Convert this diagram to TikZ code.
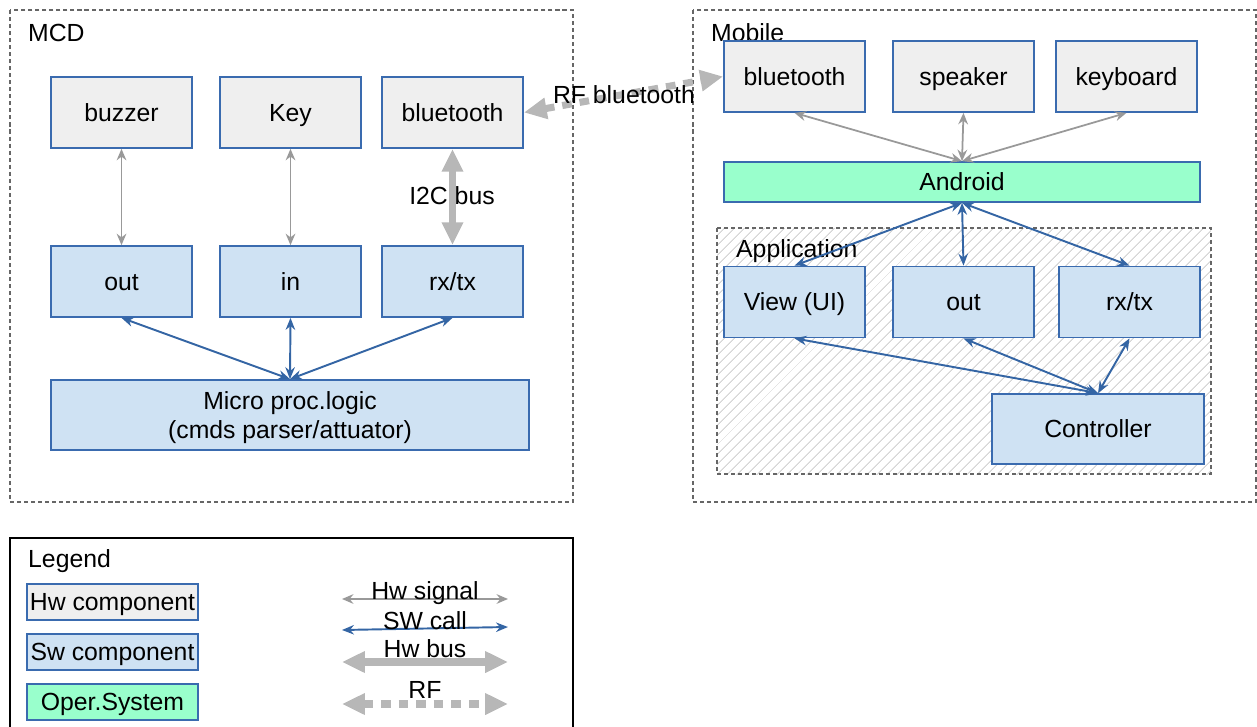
\documentclass[tikz,border=0pt]{standalone}
\usepackage{fontspec}
\setmainfont{Liberation Sans}
\usetikzlibrary{arrows.meta,patterns.meta}

\definecolor{hwfill}{HTML}{EFEFEF}
\definecolor{swfill}{HTML}{CFE2F3}
\definecolor{osfill}{HTML}{99FFCC}
\definecolor{boxline}{HTML}{3A6BAF}
\definecolor{callblue}{HTML}{3465A4}
\definecolor{siggray}{HTML}{999999}
\definecolor{busgray}{HTML}{B7B7B7}
\definecolor{framegray}{HTML}{666666}

\tikzset{
  every node/.style={font=\fontsize{14.1}{16}\selectfont},
  compbox/.style={draw=boxline, line width=1pt, minimum width=28.2mm, minimum height=14.2mm, inner sep=1pt},
  onerow/.style={text height=10.6pt, text depth=0.6pt},
  hwbox/.style={compbox, onerow, fill=hwfill},
  swbox/.style={compbox, onerow, fill=swfill},
  osbox/.style={compbox, onerow, fill=osfill},
  legbox/.style={minimum width=34.2mm, minimum height=7.2mm},
  groupbox/.style={draw=framegray, line width=0.75pt, dash pattern=on 2.3pt off 1.7pt},
  hwsig/.style={draw=siggray, line width=1pt, {Stealth[length=6.5pt,width=5.5pt]}-{Stealth[length=6.5pt,width=5.5pt]}},
  swcall/.style={draw=callblue, line width=1.1pt, {Stealth[length=6.8pt,width=5.4pt]}-{Stealth[length=6.8pt,width=5.4pt]}},
  hwbus/.style={draw=busgray, line width=4pt, {Triangle[length=13pt,width=11.5pt]}-{Triangle[length=13pt,width=11.5pt]}},
  rflink/.style={hwbus, dash pattern=on 5.5pt off 4.5pt},
}

\begin{document}
\begin{tikzpicture}[x=0.2mm,y=-0.2mm]

\useasboundingbox (0,0) rectangle (1257,727);
\clip (0,0) rectangle (1257,727);

    %%% groups
    \draw[groupbox] (10,10) rectangle (573,502);
    \node[anchor=west] (mcdlbl) at (22,33) {MCD};

    \draw[groupbox] (693,10) rectangle (1256,502);
    \node[anchor=west] (moblbl) at (705,33) {Mobile};

    \draw[groupbox, pattern={Lines[angle=45,distance=4pt,line width=0.6pt]}, pattern color=black!16] (717,228) rectangle (1211,474);
    \node[anchor=west] (applbl) at (730,251) {Application};

    %%% MCD side
    \node[hwbox] (buzzer) at (121.5,112.5) {buzzer};
    \node[hwbox] (key) at (290.5,112.5) {Key};
    \node[hwbox] (bt) at (452.5,112.5) {bluetooth};

    \node[swbox] (out) at (121.5,281.5) {out};
    \node[swbox] (in) at (290.5,281.5) {in};
    \node[swbox] (rxtx) at (452.5,281.5) {rx/tx};

    \node[compbox, fill=swfill, minimum width=95.6mm, minimum height=14mm, text depth=0pt, align=center] (micro) at (290,415) {Micro proc.logic\\(cmds parser/attuator)};

    \draw[hwsig] (buzzer) -- (out);
    \draw[hwsig] (key) -- (in);
    \draw[hwbus] (bt) -- (rxtx);
    \node (i2c) at (452,196) {I2C bus};

    \draw[swcall] (out.south) -- (micro.north);
    \draw[swcall] (in.south) -- (micro.north);
    \draw[swcall] (rxtx.south) -- (micro.north);

    %%% mobile side
    \node[hwbox] (mbt) at (794.5,76.5) {bluetooth};
    \node[hwbox] (speaker) at (963.5,76.5) {speaker};
    \node[hwbox] (keyboard) at (1126.5,76.5) {keyboard};

    \node[osbox, minimum width=95.2mm, minimum height=8mm] (android) at (962,182) {Android};

    \draw[hwsig] (mbt.south) -- (android.north);
    \draw[hwsig] (speaker.south) -- (android.north);
    \draw[hwsig] (keyboard.south) -- (android.north);

    \node[swbox] (view) at (794.5,302) {View (UI)};
    \node[swbox] (aout) at (963.5,302) {out};
    \node[swbox] (arxtx) at (1129.5,302) {rx/tx};
    \node[swbox, minimum width=42.4mm, minimum height=14mm] (ctrl) at (1098,429) {Controller};

    \draw[swcall] (android.south) -- (view.north);
    \draw[swcall] (android.south) -- (aout.north);
    \draw[swcall] (android.south) -- (arxtx.north);

    \draw[swcall] (view.south) -- (ctrl.north);
    \draw[swcall] (aout.south) -- (ctrl.north);
    \draw[swcall] (arxtx.south) -- (ctrl.north);

    %%% radio link
    \draw[rflink] (bt.east) -- (mbt.west);
    \node (rflbl) at (624,95) {RF bluetooth};

% legend

    \draw[black, line width=0.9pt] (10,538) rectangle (573,740);
    \node[anchor=west] (leglbl) at (22,561) {Legend};

    \node[hwbox, legbox] (leghw) at (112.5,602) {Hw component};
    \node[swbox, legbox] (legsw) at (112.5,652) {Sw component};
    \node[osbox, legbox] (legos) at (112.5,702) {Oper.System};

    \coordinate (S1) at (342,599);
    \coordinate (S2) at (508,599);
    \coordinate (C1) at (342,630);
    \coordinate (C2) at (508,627);
    \coordinate (B1) at (342,662);
    \coordinate (B2) at (508,662);
    \coordinate (R1) at (342,704);
    \coordinate (R2) at (508,704);

    \draw[hwsig] (S1) -- (S2);
    \node (legsig) at (425,593) {Hw signal};
    \draw[swcall] (C1) -- (C2);
    \node (legcall) at (425,621) {SW call};
    \draw[hwbus] (B1) -- (B2);
    \node (legbus) at (425,649) {Hw bus};
    \draw[rflink] (R1) -- (R2);
    \node (legrf) at (425,690) {RF};

\end{tikzpicture}
\end{document}
